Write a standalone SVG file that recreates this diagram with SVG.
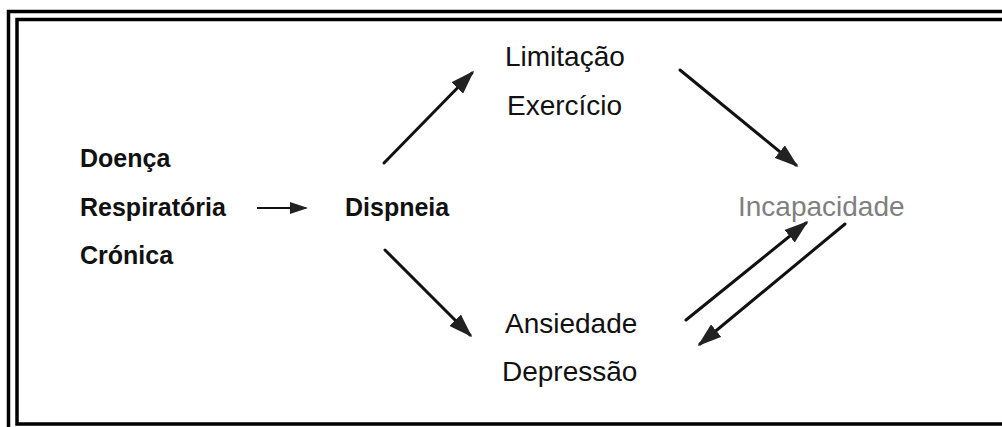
<svg xmlns="http://www.w3.org/2000/svg" width="1002" height="427" viewBox="0 0 1002 427">
<style>
.b{font-family:"Liberation Sans",Arial,sans-serif;font-weight:bold;font-size:25px;fill:#111}
.r{font-family:"Liberation Sans",Arial,sans-serif;font-size:28px;fill:#111}
.g{font-family:"Liberation Sans",Arial,sans-serif;font-size:28px;fill:#7f7f7f}
.c{stroke:#111;stroke-width:3;fill:none;stroke-linecap:round}
.t{stroke:#111;stroke-width:2;fill:none}
.f{fill:none;stroke:#000;stroke-width:3.5}
</style>
<defs>
<marker id="ah" markerWidth="8" markerHeight="5.4" refX="7" refY="2.7" orient="auto" markerUnits="strokeWidth">
<path d="M0,0 L8,2.7 L0,5.4 Z" fill="#222"/>
</marker>
<marker id="ah2" markerWidth="9" markerHeight="6" refX="8" refY="3" orient="auto" markerUnits="strokeWidth">
<path d="M0,0 L9,3 L0,6 Z" fill="#222"/>
</marker>
</defs>
<rect width="1002" height="427" fill="#fff"/>
<g id="frame">
<path class="f" d="M8.5,430 V11.5 H1010"/>
<path class="f" d="M1010,19.5 H17 V424 H1010"/>
</g>
<g id="doenca"><text class="b" x="80" y="167">Doença</text><text class="b" x="80" y="216">Respiratória</text><text class="b" x="80" y="264">Crónica</text></g>
<g id="dispneia"><text class="b" x="345" y="216">Dispneia</text></g>
<g id="limitacao"><text class="r" x="505" y="66">Limitação</text><text class="r" x="507" y="115">Exercício</text></g>
<g id="ansiedade"><text class="r" x="505" y="333">Ansiedade</text><text class="r" x="502" y="381">Depressão</text></g>
<g id="incapacidade"><text class="g" x="738" y="216">Incapacidade</text></g>
<g id="connectors">
<line class="t" x1="257" y1="208" x2="306" y2="208" marker-end="url(#ah2)"/>
<line class="c" x1="384" y1="163" x2="472" y2="73" marker-end="url(#ah)"/>
<line class="c" x1="680" y1="70" x2="796" y2="165" marker-end="url(#ah)"/>
<line class="c" x1="385" y1="250" x2="470" y2="335" marker-end="url(#ah)"/>
<line class="c" x1="686" y1="320" x2="806" y2="223" marker-end="url(#ah)"/>
<line class="c" x1="845" y1="224" x2="700" y2="344" marker-end="url(#ah)"/>
</g>
</svg>
